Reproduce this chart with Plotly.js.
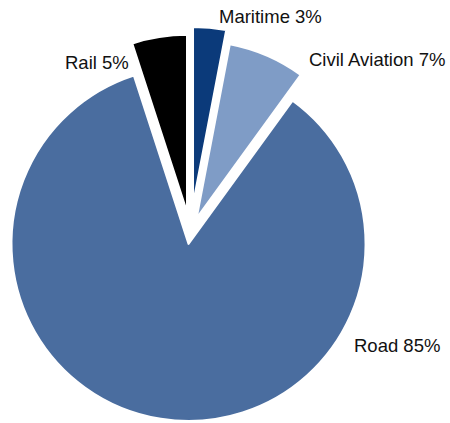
<!DOCTYPE html>
<html>
<head>
<meta charset="utf-8">
<script src="https://cdn.plot.ly/plotly-3.0.1.min.js"></script>
<style>
  html, body { margin: 0; padding: 0; width: 450px; height: 423px; overflow: hidden; background: #fff; }
  #chart { position: absolute; left: -20px; top: 0px; width: 480px; height: 460px; }
</style>
</head>
<body>
<div id="chart"></div>
<script>
// Data
const labels = ["Maritime", "Civil Aviation", "Road", "Rail"];
const values = [3, 7, 85, 5];
const colors = ["#0b3a7a", "#7f9cc6", "#4a6d9f", "#000000"];
const pulls = [0.163, 0.09, 0.064, 0.119];

// Label placement (paper coords of the plot div) — styling, not data
const labelPos = [
  {x: 237 / 480, y: 1 - 16 / 460},
  {x: 327 / 480, y: 1 - 59 / 460},
  {x: 372 / 480, y: 1 - 345 / 460},
  {x: 83 / 480, y: 1 - 62 / 460}
];

const trace = {
  type: "pie",
  labels: labels,
  values: values,
  sort: false,
  direction: "clockwise",
  rotation: 0,
  pull: pulls,
  marker: { colors: colors, line: { color: "#ffffff", width: 2 } },
  textinfo: "none",
  hoverinfo: "label+percent",
  domain: { x: [0.00917, 0.8671], y: [0.0465, 0.9417] },
  showlegend: false
};

const annotations = labels.map((l, i) => ({
  xref: "paper", yref: "paper",
  x: labelPos[i].x, y: labelPos[i].y,
  xanchor: "left", yanchor: "middle",
  text: l + " " + values[i] + "%",
  showarrow: false,
  font: { family: "Liberation Sans, Arial, sans-serif", size: 18.5, color: "#111111" }
}));

const layout = {
  width: 480, height: 460,
  margin: { l: 0, r: 0, t: 0, b: 0 },
  paper_bgcolor: "#ffffff",
  plot_bgcolor: "#ffffff",
  showlegend: false,
  annotations: annotations
};

Plotly.newPlot("chart", [trace], layout, { displayModeBar: false, staticPlot: true });
</script>
</body>
</html>
